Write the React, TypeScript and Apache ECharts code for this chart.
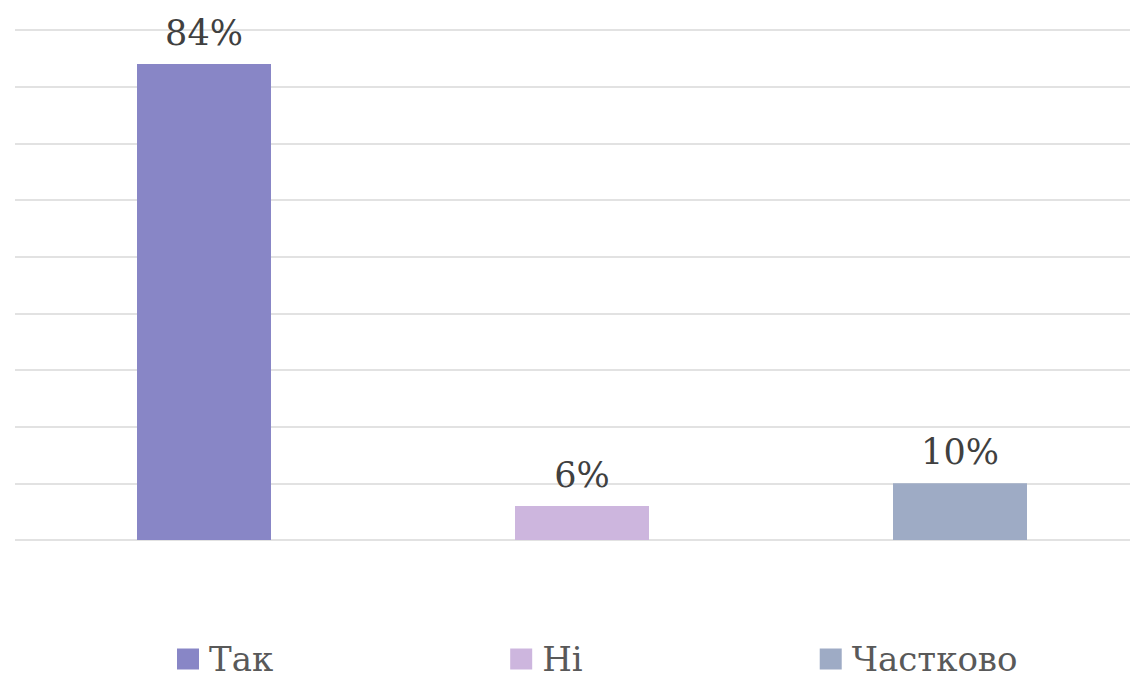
import React, { useEffect, useRef } from "react";
import * as echarts from "echarts";

const categories = ["Так", "Ні", "Частково"];
const values = [84, 6, 10];
const colors = ["#8886c6", "#cdb6de", "#9eabc5"];

const SERIF = "DejaVu Serif, serif";

export default function App() {
  const ref = useRef<HTMLDivElement>(null);
  useEffect(() => {
    if (!ref.current) return;
    const chart = echarts.init(ref.current, null, { renderer: "svg" });
    const series = categories.map((name, i) => ({
      name,
      type: "bar",
      stack: "all",
      barWidth: 134,
      itemStyle: { color: colors[i] },
      label: {
        show: true,
        position: "top",
        distance: 14,
        formatter: "{c}%",
        fontFamily: SERIF,
        fontSize: 35,
        color: "#404040",
      },
      data: categories.map((_, j) => (j === i ? values[i] : "-")),
    }));
    chart.setOption({
      animation: false,
      backgroundColor: "#ffffff",
      textStyle: { fontFamily: SERIF },
      grid: { left: 15, width: 1134, top: 30, height: 510 },
      xAxis: {
        type: "category",
        data: categories,
        axisLine: { show: false },
        axisTick: { show: false },
        axisLabel: { show: false },
      },
      yAxis: {
        type: "value",
        min: 0,
        max: 90,
        interval: 10,
        axisLabel: { show: false },
        axisLine: { show: false },
        axisTick: { show: false },
        splitLine: { lineStyle: { color: "#d9d9d9", width: 1.5 } },
      },
      legend: {
        left: 177,
        top: 642,
        padding: 0,
        itemWidth: 22,
        itemHeight: 21,
        itemGap: 237,
        icon: "rect",
        textStyle: {
          fontFamily: SERIF,
          fontSize: 34,
          color: "#595959",
          padding: [0, 0, 0, 5],
        },
        data: categories,
      },
      series,
    });
    return () => chart.dispose();
  }, []);
  return (
    <div
      style={{
        position: "absolute",
        left: 0,
        top: 0,
        width: 1130,
        height: 683,
        overflow: "hidden",
      }}
    >
      <div ref={ref} style={{ width: 1160, height: 683 }} />
    </div>
  );
}
